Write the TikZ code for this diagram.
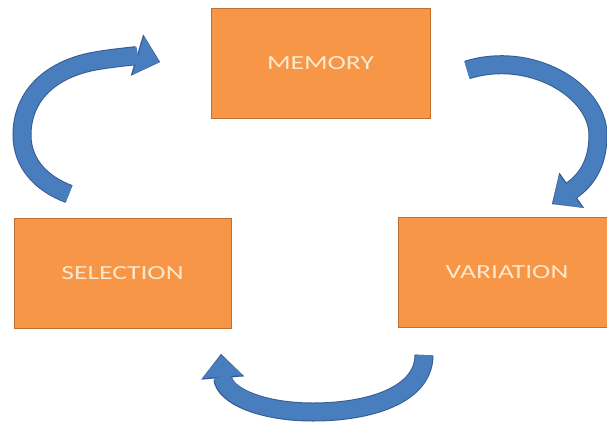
\documentclass[tikz,border=0pt]{standalone}
\usepackage{fontspec}
\usepackage{graphicx}
\usetikzlibrary{arrows.meta}
\newfontfamily\boxfont{Carlito}

\definecolor{boxfill}{RGB}{247,150,70}
\definecolor{boxline}{RGB}{190,112,48}
\definecolor{boxtext}{RGB}{253,232,206}
\definecolor{arrowbody}{RGB}{72,125,190}
\definecolor{arrowedge}{RGB}{52,92,148}

\tikzset{
  stagebox/.style={draw=boxline, line width=1pt, fill=boxfill,
    minimum height=110pt, inner sep=0pt, text=boxtext,
    font=\boxfont\fontsize{20}{24}\selectfont},
  bandedge/.style={draw=arrowedge, line width=19pt,
    -{Triangle[width=43pt,length=24pt,line width=0.1pt]}},
  bandbody/.style={draw=arrowbody, line width=17pt, shorten >=1.2pt,
    -{Triangle[width=40pt,length=21.5pt,line width=0.1pt]}},
}
\newcommand{\stretchlabel}[1]{\scalebox{1.38}[1]{#1}}

\begin{document}
\begin{tikzpicture}[x=1pt,y=-1pt]
  \useasboundingbox (0,0) rectangle (607,421);
  \clip (0,0) rectangle (607,421);
  \fill[white] (0,0) rectangle (607,421);

  % the three stages
  \node[stagebox, minimum width=219pt] (memory)    at (320.5,63) {\stretchlabel{MEMORY}};
  \node[stagebox, minimum width=217pt] (selection) at (122.5,273) {\stretchlabel{SELECTION}};
  \node[stagebox, minimum width=214pt, text width=214pt, align=center] (variation) at (505,272)
    {\hspace*{4pt}\stretchlabel{VARIATION}};

  % ends of the curved arrows
  \coordinate (selTail) at (69,194);
  \coordinate (memHead) at (160,62);
  \coordinate (memTail) at (467,70);
  \coordinate (varHead) at (552,204);
  \coordinate (varTail) at (424,355);
  \coordinate (selHead) at (221,354);

  % selection -> memory: sweep round the left side
  \foreach \layer in {bandedge,bandbody}
    \draw[\layer] (selTail) .. controls (42,184) and (22,164) .. (22,135)
                            .. controls (22,100) and (45,72) .. (90,62)
                            .. controls (115,57) and (140,56) .. (memHead);
  % memory -> variation
  \foreach \layer in {bandedge,bandbody}
    \draw[\layer] (memTail) .. controls (530,50) and (598,90) .. (598,135)
                            .. controls (598,165) and (585,181) .. (varHead);
  % variation -> selection
  \foreach \layer in {bandedge,bandbody}
    \draw[\layer] (varTail) .. controls (424,395) and (370,412) .. (313,412)
                            .. controls (260,412) and (224,395) .. (selHead);
\end{tikzpicture}
\end{document}
